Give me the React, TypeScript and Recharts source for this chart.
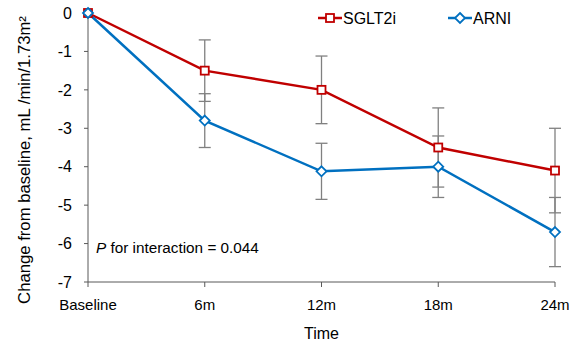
import React from 'react';
import { LineChart, Line, XAxis, YAxis, ErrorBar } from 'recharts';

const timepoints = ['Baseline', '6m', '12m', '18m', '24m'];
const sglt2iMean = [0, -1.5, -2.0, -3.5, -4.1];
const sglt2iErr = [undefined, 0.8, 0.88, 1.03, 1.1];
const arniMean = [0, -2.8, -4.12, -4.0, -5.7];
const arniErr = [undefined, 0.7, 0.73, 0.8, 0.9];
const yTicks = [0, -1, -2, -3, -4, -5, -6, -7];

const data = timepoints.map((t, i) => ({
  time: t,
  sglt2i: sglt2iMean[i],
  sglt2iErr: sglt2iErr[i],
  arni: arniMean[i],
  arniErr: arniErr[i],
}));

const RED = '#c00000';
const BLUE = '#0070c0';
const FONT = "'Liberation Sans', Arial, sans-serif";

const SquareDot = (props: any) => {
  const { cx, cy, index } = props;
  if (cx == null || cy == null) return null;
  return <rect key={`s${index}`} x={cx - 4} y={cy - 4} width={8} height={8} fill="#fff" stroke={RED} strokeWidth={1.8} />;
};

const DiamondDot = (props: any) => {
  const { cx, cy, index } = props;
  if (cx == null || cy == null) return null;
  const r = 5;
  return (
    <path
      key={`d${index}`}
      d={`M${cx},${cy - r}L${cx + r},${cy}L${cx},${cy + r}L${cx - r},${cy}Z`}
      fill="#fff"
      stroke={BLUE}
      strokeWidth={1.8}
    />
  );
};

export default function App() {
  return (
    <div style={{ position: 'absolute', left: 0, top: 0, width: 579, height: 342, background: '#fff', fontFamily: FONT }}>
      <LineChart width={579} height={342} data={data} margin={{ top: 13, right: 24, bottom: 0, left: 0 }}>
        <XAxis
          dataKey="time"
          scale="point"
          padding={{ left: 0, right: 0 }}
          tick={{ fill: '#000', fontSize: 15, fontFamily: FONT }}
          tickLine={{ stroke: '#595959' }}
          axisLine={{ stroke: '#595959' }}
          tickSize={5}
          tickMargin={12}
          height={60}
          label={{ value: 'Time', position: 'insideBottom', offset: 3, fill: '#000', fontSize: 16, fontFamily: FONT }}
        />
        <YAxis
          type="number"
          domain={[-7, 0]}
          ticks={yTicks}
          interval={0}
          tick={{ fill: '#000', fontSize: 16, fontFamily: FONT }}
          tickLine={{ stroke: '#595959' }}
          axisLine={{ stroke: '#595959' }}
          tickSize={4}
          tickMargin={12}
          width={88}
        />
        <Line
          type="linear"
          dataKey="sglt2i"
          stroke={RED}
          strokeWidth={2.5}
          dot={SquareDot}
          activeDot={false}
          isAnimationActive={false}
        >
          <ErrorBar dataKey="sglt2iErr" direction="y" width={6} stroke="#808080" strokeWidth={1.3} />
        </Line>
        <Line
          type="linear"
          dataKey="arni"
          stroke={BLUE}
          strokeWidth={2.5}
          dot={DiamondDot}
          activeDot={false}
          isAnimationActive={false}
        >
          <ErrorBar dataKey="arniErr" direction="y" width={6} stroke="#808080" strokeWidth={1.3} />
        </Line>
        <text
          x={0}
          y={0}
          transform="translate(30,160) rotate(-90)"
          textAnchor="middle"
          fontSize={16.7}
          fontFamily={FONT}
          fill="#000"
        >
          Change from baseline, mL /min/1.73m²
        </text>
        <text x={96} y={253} fontSize={15.3} fontFamily={FONT} fill="#000">
          <tspan fontStyle="italic">P</tspan>
          <tspan> for interaction = 0.044</tspan>
        </text>
        <g>
          <line x1={318} y1={18} x2={342} y2={18} stroke={RED} strokeWidth={2.5} />
          <rect x={326} y={14} width={8} height={8} fill="#fff" stroke={RED} strokeWidth={1.8} />
          <text x={343} y={24} fontSize={16} fontFamily={FONT} fill="#000">SGLT2i</text>
          <line x1={448} y1={18} x2={472} y2={18} stroke={BLUE} strokeWidth={2.5} />
          <path d="M460,13L465,18L460,23L455,18Z" fill="#fff" stroke={BLUE} strokeWidth={1.8} />
          <text x={473} y={24} fontSize={16} fontFamily={FONT} fill="#000">ARNI</text>
        </g>
      </LineChart>
    </div>
  );
}
